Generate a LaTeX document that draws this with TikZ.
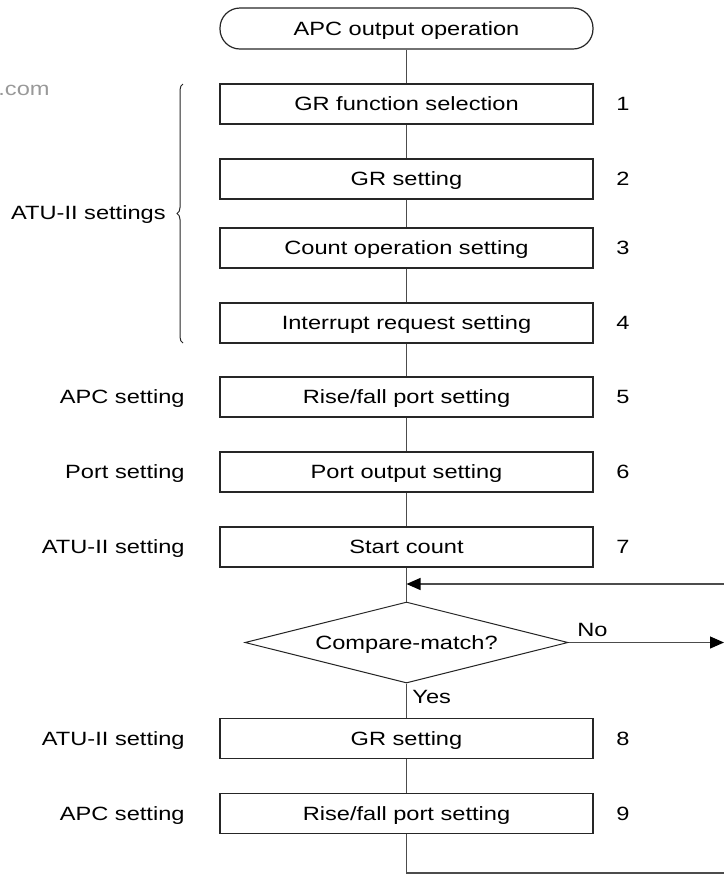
\documentclass[tikz,border=0pt]{standalone}
\usepackage{fontspec}
\setmainfont{Liberation Sans}[FakeStretch=1.23]
\usetikzlibrary{shapes.geometric,arrows.meta,decorations.pathreplacing}

\begin{document}
\begin{tikzpicture}[x=0.5pt,y=-0.5pt,
  every node/.style={font=\fontsize{9.6}{11}\selectfont, text=black, text height=6.9pt, text depth=0pt},
  stepbox/.style={draw=black!85, line width=0.6pt, minimum width=186.5pt, minimum height=20pt, inner sep=0pt},
  termbox/.style={stepbox, rounded corners=10pt, minimum height=20.5pt},
  decbox/.style={diamond, aspect=4, draw=black!85, line width=0.5pt, minimum width=161.5pt, minimum height=40.5pt, inner sep=0pt},
  conn/.style={draw=black!70, line width=0.6pt},
  arr/.style={conn, -{Triangle[length=7pt,width=6pt,color=black]}},
  sidelbl/.style={anchor=east, inner sep=0pt},
  numlbl/.style={inner sep=0pt},
  wmark/.style={anchor=east, inner sep=0pt, text=black!40},
]
\useasboundingbox (0,0) rectangle (724,875);

% watermark fragment
\node[wmark] (wm) at (50,89) {.com};

% main column
\node[termbox] (t0) at (406.5,28.5) {APC output operation};
\node[stepbox] (b1) at (406.5,104) {GR function selection};
\node[stepbox] (b2) at (406.5,179) {GR setting};
\node[stepbox] (b3) at (406.5,248) {Count operation setting};
\node[stepbox] (b4) at (406.5,323) {Interrupt request setting};
\node[stepbox] (b5) at (406.5,397) {Rise/fall port setting};
\node[stepbox] (b6) at (406.5,472) {Port output setting};
\node[stepbox] (b7) at (406.5,547) {Start count};
\node[decbox]  (d1) at (406.5,642.5) {Compare-match?};
\node[stepbox] (b8) at (406.5,738.5) {GR setting};
\node[stepbox] (b9) at (406.5,813.5) {Rise/fall port setting};

% step numbers
\node[numlbl] (n1) at (623,104) {1};
\node[numlbl] (n2) at (623,179) {2};
\node[numlbl] (n3) at (623,248) {3};
\node[numlbl] (n4) at (623,323) {4};
\node[numlbl] (n5) at (623,397) {5};
\node[numlbl] (n6) at (623,472) {6};
\node[numlbl] (n7) at (623,547) {7};
\node[numlbl] (n8) at (623,738.5) {8};
\node[numlbl] (n9) at (623,813.5) {9};

% side labels
\node[sidelbl] (l5) at (185,397) {APC setting};
\node[sidelbl] (l6) at (185,472) {Port setting};
\node[sidelbl] (l7) at (185,547) {ATU-II setting};
\node[sidelbl] (l8) at (185,738.5) {ATU-II setting};
\node[sidelbl] (l9) at (185,813.5) {APC setting};
\node[sidelbl] (l14) at (166,213) {ATU-II settings};

% brace
\coordinate (brb) at (183,343);
\coordinate (brt) at (183,84);
\draw[line width=0.5pt, black!85, decorate, decoration={brace, amplitude=3pt}] (brb) -- (brt);

% helper coordinates
\coordinate (join) at (406.5,584);
\coordinate (rin) at (724,584);
\coordinate (nout) at (724,642.5);
\coordinate (bend) at (406.5,873);
\coordinate (bout) at (724,873);

% connectors
\draw[conn] (t0) -- (b1);
\draw[conn] (b1) -- (b2);
\draw[conn] (b2) -- (b3);
\draw[conn] (b3) -- (b4);
\draw[conn] (b4) -- (b5);
\draw[conn] (b5) -- (b6);
\draw[conn] (b6) -- (b7);
\draw[conn] (b7) -- (d1.north);
\draw[arr] (rin) -- (join);
\draw[arr] (d1.east) -- (nout);
\draw[conn] (d1.south) -- (b8);
\draw[conn] (b8) -- (b9);
\draw[conn] (b9) -- (bend) -- (bout);

% branch labels
\node[anchor=west, inner sep=0pt] (lno) at (577,630) {No};
\node[anchor=west, inner sep=0pt] (lyes) at (412,697) {Yes};
\end{tikzpicture}
\end{document}
